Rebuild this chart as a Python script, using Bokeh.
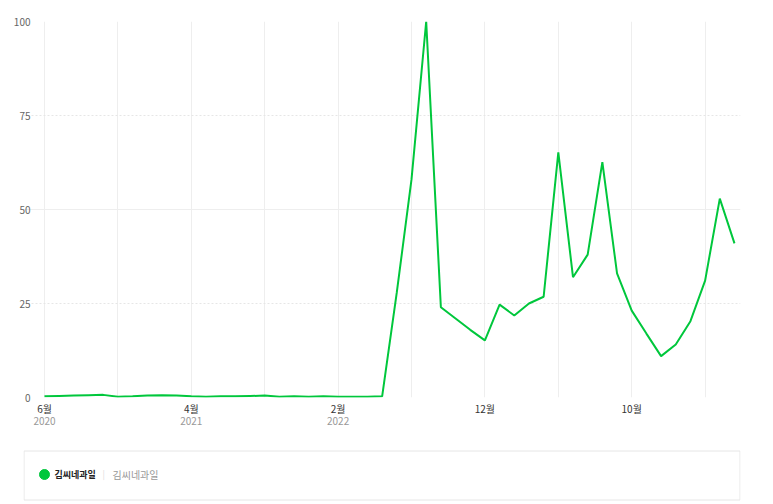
from bokeh.plotting import figure
from bokeh.models import Range1d, FixedTicker, LinearAxis, Grid
from bokeh.layouts import column
from bokeh.core.properties import value
from bokeh.embed import file_html
from bokeh.resources import INLINE

# ---- data (monthly, Jun 2020 .. May 2024) ----
series_name = "김씨네과일"
month_labels = [
    "2020-06", "2020-07", "2020-08", "2020-09", "2020-10", "2020-11", "2020-12",
    "2021-01", "2021-02", "2021-03", "2021-04", "2021-05", "2021-06",
    "2021-07", "2021-08", "2021-09", "2021-10", "2021-11", "2021-12",
    "2022-01", "2022-02", "2022-03", "2022-04", "2022-05", "2022-06",
    "2022-07", "2022-08", "2022-09", "2022-10", "2022-11", "2022-12",
    "2023-01", "2023-02", "2023-03", "2023-04", "2023-05", "2023-06",
    "2023-07", "2023-08", "2023-09", "2023-10", "2023-11", "2023-12",
    "2024-01", "2024-02", "2024-03", "2024-04", "2024-05",
]
values = [
    0.3, 0.4, 0.5, 0.6, 0.7, 0.2, 0.3,
    0.5, 0.6, 0.5, 0.3, 0.2, 0.3,
    0.3, 0.4, 0.5, 0.2, 0.3, 0.2,
    0.3, 0.2, 0.2, 0.2, 0.3, 28.0,
    58.0, 100.0, 24.0, 21.0, 18.0, 15.2,
    24.7, 21.8, 25.0, 26.8, 65.2, 32.0,
    38.0, 62.6, 33.0, 23.1, 17.0, 11.0,
    14.1, 20.3, 31.1, 52.9, 41.0,
]
month_tick_pos = [0, 10, 20, 30, 40]
month_tick_labels = ["6월", "4월", "2월", "12월", "10월"]
year_tick_pos = [0, 10, 20]
year_tick_labels = ["2020", "2021", "2022"]
y_ticks = [0, 25, 50, 75, 100]

FONT = "Noto Sans CJK KR"
GREEN = "#00c73c"

xs = list(range(len(values)))

W = 760
p = figure(width=W, height=448, output_backend="svg", toolbar_location=None,
           x_range=Range1d(-1.4305, 47.41), y_range=Range1d(0, 100))
p.min_border_left = 23
p.min_border_right = W - 740
p.min_border_top = 21
p.min_border_bottom = 51
p.outline_line_color = None
p.background_fill_color = "white"
p.border_fill_color = "white"

# grids
p.xgrid.ticker = FixedTicker(ticks=list(range(0, 50, 5)))
p.xgrid.grid_line_color = "#eeeeee"
p.ygrid.ticker = FixedTicker(ticks=[0, 50, 100])
p.ygrid.grid_line_color = "#eeeeee"
p.ygrid.bounds = (-0.545, 47.41)
dash_grid = Grid(dimension=1, ticker=FixedTicker(ticks=[25, 75]),
                 grid_line_color="#e6e6e6", grid_line_dash="2 2",
                 bounds=(-0.545, 47.41))
p.add_layout(dash_grid)


def style_axis(ax, color, standoff):
    ax.axis_line_color = None
    ax.major_tick_line_color = None
    ax.minor_tick_line_color = None
    ax.major_tick_out = 0
    ax.major_tick_in = 0
    ax.minor_tick_out = 0
    ax.minor_tick_in = 0
    ax.major_label_text_color = color
    ax.major_label_text_font = FONT
    ax.major_label_text_font_size = "10px"
    ax.major_label_standoff = standoff


# y axis
ya = p.yaxis[0]
ya.ticker = FixedTicker(ticks=y_ticks)
style_axis(ya, "#666666", -7)

# x axis (months)
xa = p.xaxis[0]
xa.ticker = FixedTicker(ticks=month_tick_pos)
xa.major_label_overrides = {pos: lab for pos, lab in zip(month_tick_pos, month_tick_labels)}
style_axis(xa, "#333333", 3)

# second x axis (years)
xa2 = LinearAxis(ticker=FixedTicker(ticks=year_tick_pos),
                 major_label_overrides={pos: lab for pos, lab in zip(year_tick_pos, year_tick_labels)})
style_axis(xa2, "#999999", -2)
p.add_layout(xa2, "below")

p.line(xs, values, line_color=GREEN, line_width=2)

# ---- legend strip (frame is aligned with the chart frame: x = 23..740 px) ----
lg = figure(width=W, height=55, output_backend="svg", toolbar_location=None,
            x_range=Range1d(23, 740), y_range=Range1d(55, 0),
            x_axis_type=None, y_axis_type=None)
lg.min_border_left = 23
lg.min_border_right = W - 740
lg.min_border_top = 0
lg.min_border_bottom = 0
lg.outline_line_color = None
lg.grid.visible = False
lg.quad(left=23.5, right=739.5, top=2.5, bottom=51.5, fill_color="white",
        line_color="#e6e6e6", line_width=1)
lg.scatter(x=[44], y=[26], size=10, color=GREEN)
lg.text(x=[54], y=[26], text=[series_name], text_baseline="middle",
        text_font=value(FONT), text_font_size="9px", text_color="#222222",
        text_font_style="bold")
lg.text(x=[102], y=[26], text=["|"], text_baseline="middle",
        text_font=value(FONT), text_font_size="9px", text_color="#dddddd")
lg.text(x=[112], y=[26], text=[series_name], text_baseline="middle",
        text_font=value(FONT), text_font_size="10px", text_color="#999999")

layout = column(p, lg)
open("out.html", "w").write(file_html(layout, INLINE))
